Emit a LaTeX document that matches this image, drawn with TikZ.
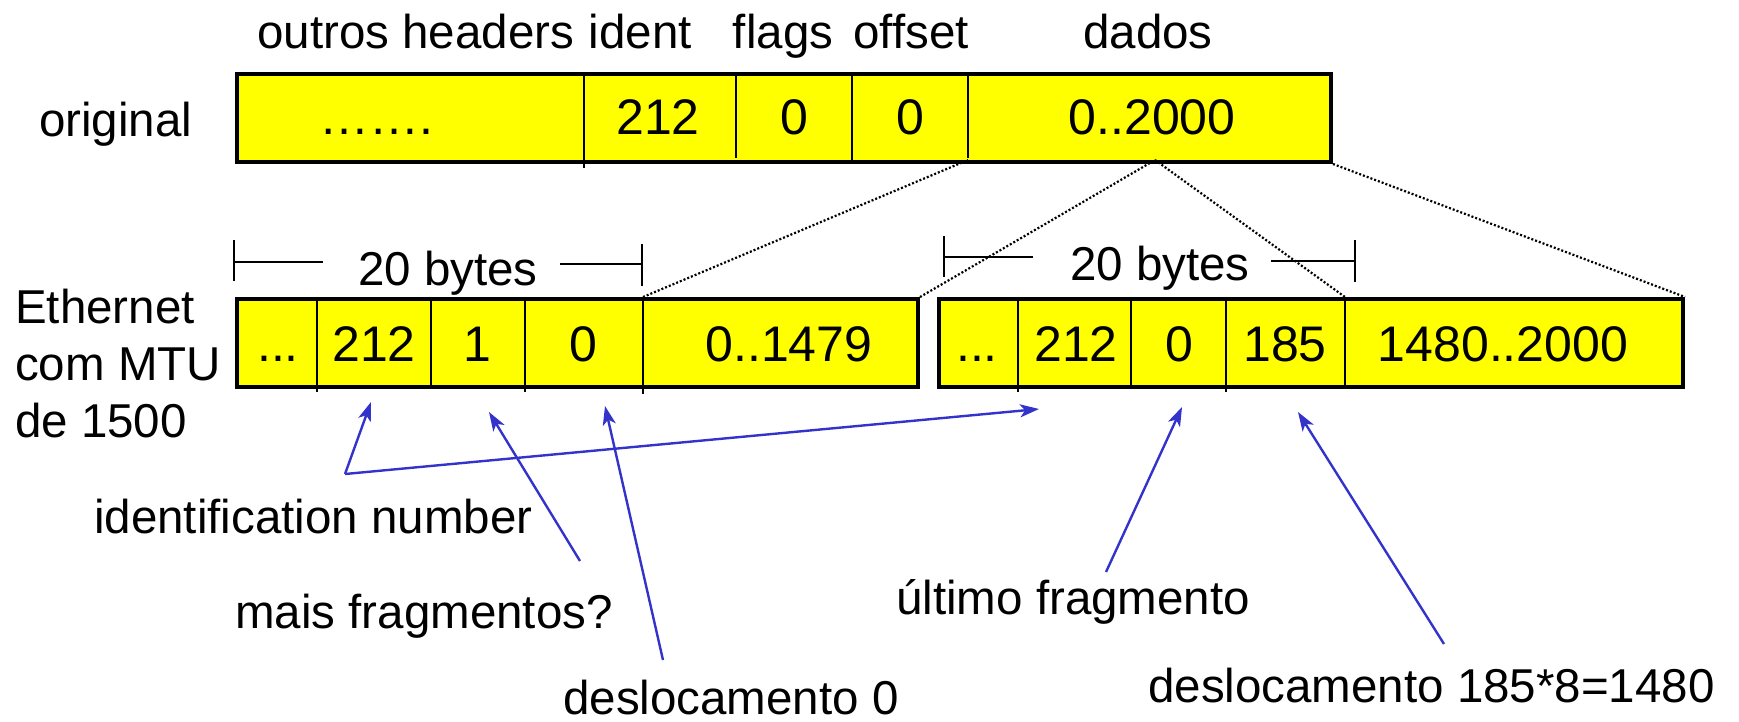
\documentclass[tikz,border=0pt]{standalone}
\usepackage{fontspec}
\setmainfont{Liberation Sans}
\usetikzlibrary{arrows.meta}
\definecolor{ptrblue}{RGB}{51,51,204}
\definecolor{cellyellow}{RGB}{255,255,0}
\tikzset{
  frame/.style={draw=black, line width=4pt, fill=cellyellow, anchor=north west,
    minimum height=88pt, inner sep=0pt},
  cellline/.style={draw=black, line width=1.8pt},
  txt/.style={inner sep=0pt, font=\fontsize{47.5}{57}\selectfont},
  celltxt/.style={inner sep=0pt, font=\fontsize{50}{57}\selectfont, anchor=base},
  pointer/.style={draw=ptrblue, line width=2.4pt,
    -{Stealth[length=19pt,width=13pt,inset=5pt]}},
  dotline/.style={draw=black, line width=2.2pt, dash pattern=on 2pt off 2pt},
  bracket/.style={draw=black, line width=1.6pt}
}
\begin{document}
\begin{tikzpicture}[x=1pt,y=-1pt]
\useasboundingbox (0,0) rectangle (1739,721);

% header field names
\node[txt, anchor=base west] (h-outros) at (257,48) {outros headers};
\node[txt, anchor=base east] (h-ident) at (692,48) {ident};
\node[txt, anchor=base] (h-flags) at (783,48) {flags};
\node[txt, anchor=base] (h-offset) at (911,48) {offset};
\node[txt, anchor=base] (h-dados) at (1148,48) {dados};

% original datagram
\node[txt, anchor=base west] (l-orig) at (39,136) {original};
\node[frame, minimum width=1094pt] (orig) at (235,72) {};
\draw[cellline] (584,72) -- (584,168);
\draw[cellline] (736,72) -- (736,158);
\draw[cellline] (852,72) -- (852,160);
\draw[cellline] (968,72) -- (968,158);
\node[celltxt] (o-c1) at (376,134) {…….};
\node[celltxt] (o-c2) at (658,134) {212};
\node[celltxt] (o-c3) at (794,134) {0};
\node[celltxt] (o-c4) at (910,134) {0};
\node[celltxt] (o-c5) at (1152,134) {0..2000};
\coordinate (o-dados) at (968,160);
\coordinate (o-split) at (1155,160);

% link label
\node[txt, anchor=base west] (l-eth1) at (15,323) {Ethernet};
\node[txt, anchor=base west] (l-eth2) at (15,380) {com MTU};
\node[txt, anchor=base west] (l-eth3) at (15,437) {de 1500};

% first fragment
\node[frame, minimum width=681pt] (f1) at (235,297) {};
\draw[cellline] (317,297) -- (317,392);
\draw[cellline] (431,297) -- (431,385);
\draw[cellline] (525,297) -- (525,392);
\draw[cellline] (643,297) -- (643,394);
\node[celltxt] (f1-c1) at (278,361) {...};
\node[celltxt] (f1-c2) at (374,361) {212};
\node[celltxt] (f1-c3) at (477,361) {1};
\node[celltxt] (f1-c4) at (583,361) {0};
\node[celltxt] (f1-c5) at (789,361) {0..1479};
\coordinate (f1-dados) at (643,297);

% second fragment
\node[frame, minimum width=744pt] (f2) at (937,297) {};
\draw[cellline] (1018,297) -- (1018,392);
\draw[cellline] (1131,297) -- (1131,385);
\draw[cellline] (1226,297) -- (1226,392);
\draw[cellline] (1345,297) -- (1345,385);
\node[celltxt] (f2-c1) at (977,361) {...};
\node[celltxt] (f2-c2) at (1076,361) {212};
\node[celltxt] (f2-c3) at (1179,361) {0};
\node[celltxt] (f2-c4) at (1285,361) {185};
\node[celltxt] (f2-c5) at (1503,361) {1480..2000};
\coordinate (f2-dados) at (1345,297);

% 20-byte header brackets
\node[txt, anchor=base] (b1) at (448,285) {20 bytes};
\draw[bracket] (234,262) -- (323,262);
\draw[bracket] (234,240) -- (234,281);
\draw[bracket] (560,264) -- (642,264);
\draw[bracket] (642,244) -- (642,286);

\node[txt, anchor=base] (b2) at (1160,280) {20 bytes};
\draw[bracket] (944,257) -- (1033,257);
\draw[bracket] (944,236) -- (944,277);
\draw[bracket] (1271,261) -- (1355,261);
\draw[bracket] (1355,240) -- (1355,282);

% mapping of the data part onto the fragments
\draw[dotline] (f1-dados) -- (o-dados);
\draw[dotline] (f1.north east) -- (o-split);
\draw[dotline] (o-split) -- (f2-dados);
\draw[dotline] (orig.south east) -- (f2.north east);

% annotations
\node[txt, anchor=base west] (n-ident) at (94,533) {identification number};
\node[txt, anchor=base west] (n-mais) at (235,628) {mais fragmentos?};
\node[txt, anchor=base west] (n-desl0) at (563,714) {deslocamento 0};
\node[txt, anchor=base west] (n-ult) at (896,614) {último fragmento};
\node[txt, anchor=base west] (n-desl) at (1148,702) {deslocamento 185*8=1480};

\coordinate (t-ident) at (345,474);
\coordinate (t-mais) at (580,561);
\coordinate (t-desl0) at (663,660);
\coordinate (t-ult) at (1106,572);
\coordinate (t-desl) at (1444,644);

\draw[pointer] (t-ident) -- (371,402);
\draw[pointer] (t-ident) -- (1039,409);
\draw[pointer] (t-mais) -- (489,412);
\draw[pointer] (t-desl0) -- (605,406);
\draw[pointer] (t-ult) -- (1182,407);
\draw[pointer] (t-desl) -- (1298,412);
\end{tikzpicture}
\end{document}
